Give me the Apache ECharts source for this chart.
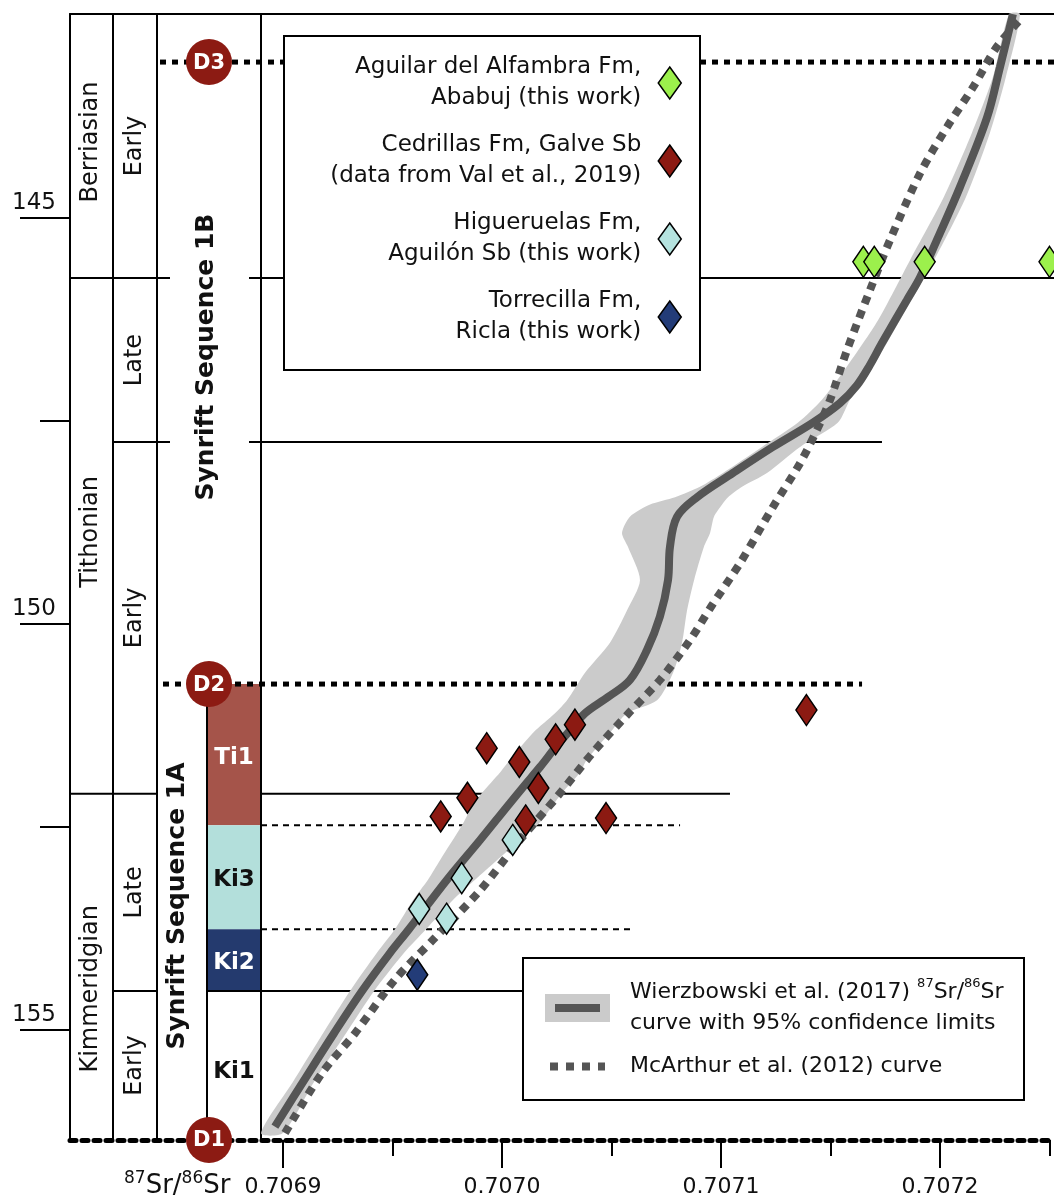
<!DOCTYPE html>
<html><head><meta charset="utf-8">
<script src="https://cdn.jsdelivr.net/npm/echarts@6/dist/echarts.min.js"></script>
<style>html,body{margin:0;padding:0;background:#fff}#c{width:1054px;height:1196px}</style>
</head><body><div id="c"></div>
<script>
// ================= DATA =================
const xTickMajor = [0.7069, 0.7070, 0.7071, 0.7072];
const xTickMinor = [0.70695, 0.70705, 0.70715, 0.70725];
const yTickMajor = [145, 150, 155];
const yTickMinor = [147.5, 152.5];

// samples: [87Sr/86Sr, age Ma]
const aguilar = [[0.707165,145.54],[0.707170,145.54],[0.707193,145.54],[0.707250,145.54]];
const cedrillas = [[0.707139,151.06],[0.7070333,151.24],[0.7070245,151.42],[0.706993,151.53],[0.7070079,151.70],
  [0.7070166,152.02],[0.7069842,152.14],[0.706972,152.37],[0.7070108,152.42],[0.7070475,152.39]];
const higueruelas = [[0.7070049,152.66],[0.7069816,153.13],[0.7069622,153.51],[0.7069747,153.63]];
const torrecilla = [[0.7069613,154.32]];

// Wierzbowski et al. (2017) curve [value, age]
const wierzbowski = [[0.7068963,156.19],[0.7069096,155.62],[0.7069233,155.04],[0.7069361,154.52],[0.7069489,154.05],
  [0.7069575,153.76],[0.7069749,153.15],[0.7069900,152.66],[0.7070023,152.25],[0.7070096,152.01],[0.7070174,151.76],
  [0.7070247,151.51],[0.7070311,151.31],[0.7070379,151.10],[0.7070484,150.90],[0.7070584,150.69],[0.7070662,150.32],
  [0.7070721,149.91],[0.7070758,149.46],[0.7070767,149.05],[0.7070799,148.68],[0.7070890,148.44],[0.7071055,148.14],
  [0.7071237,147.82],[0.7071420,147.52],[0.7071543,147.28],[0.7071621,147.06],[0.7071680,146.81],[0.7071735,146.54],
  [0.7071849,146.01],[0.7071909,145.73],[0.7071986,145.27],[0.7072091,144.62],[0.7072215,143.76],[0.7072274,143.14],
  [0.7072333,142.49]];

// 95% confidence band
const bandAge  = [156.27,155.62,155.04,154.52,154.05,153.76,153.40,153.15,152.91,152.48,152.25,152.08,151.83,151.67,151.34,
  151.10,150.94,150.60,150.23,149.83,149.46,149.05,148.88,148.68,148.53,148.44,148.31,148.14,147.82,147.52,147.24,146.83,
  146.26,145.52,144.74,143.95,143.26,142.49];
const bandLow  = [0.7068900,0.7069050,0.7069183,0.7069306,0.7069429,0.7069511,0.7069594,0.7069662,0.7069717,0.7069817,
  0.7069863,0.7069909,0.7069991,0.7070037,0.7070142,0.7070242,0.7070297,0.7070379,0.7070493,0.7070571,0.7070630,0.7070575,
  0.7070548,0.7070584,0.7070676,0.7070790,0.7070904,0.7071009,0.7071187,0.7071352,0.7071461,0.7071575,0.7071717,0.7071863,
  0.7072018,0.7072146,0.7072242,0.7072315];
const bandHigh = [0.7069000,0.7069146,0.7069288,0.7069416,0.7069553,0.7069653,0.7069776,0.7069877,0.7069977,0.7070160,
  0.7070228,0.7070274,0.7070356,0.7070388,0.7070493,0.7070571,0.7070708,0.7070781,0.7070822,0.7070845,0.7070877,0.7070922,
  0.7070950,0.7070968,0.7071005,0.7071032,0.7071096,0.7071210,0.7071361,0.7071534,0.7071589,0.7071694,0.7071817,0.7071973,
  0.7072119,0.7072228,0.7072301,0.7072365];

// McArthur et al. (2012) curve
const mcarthur = [[0.7069009,156.27],[0.7069178,155.53],[0.7069329,155.04],[0.7069511,154.38],[0.7069685,153.89],
  [0.7069900,153.28],[0.7070082,152.66],[0.7070251,152.13],[0.7070416,151.58],[0.7070571,151.12],[0.7070721,150.69],
  [0.7070858,150.20],[0.7070959,149.77],[0.7071087,149.25],[0.7071237,148.56],[0.7071361,148.02],[0.7071438,147.61],
  [0.7071498,147.24],[0.7071575,146.63],[0.7071680,145.89],[0.7071772,145.27],[0.7071909,144.45],[0.7072032,143.88],
  [0.7072151,143.39],[0.7072260,142.89],[0.7072379,142.52]];

// stratigraphy [name, top age, base age]
const stages = [['Berriasian',142.488,145.74],['Tithonian',145.74,152.09],['Kimmeridgian',152.09,156.355]];
const substages = [['Early',142.488,145.74],['Late',145.74,147.76],['Early',147.76,152.09],['Late',152.09,154.52],['Early',154.52,156.355]];
const sequences = [['Synrift Sequence 1B',142.488,150.74],['Synrift Sequence 1A',150.74,156.355]];
const units = [['Ti1',150.74,152.48],['Ki3',152.48,153.76],['Ki2',153.76,154.52],['Ki1',154.52,156.355]];
const discontinuities = [['D3',143.08],['D2',150.74],['D1',156.355]];
const boundaryAges = {berTith:145.74, tithLE:147.76, tithKim:152.09, ki3:152.48, ki2:153.76, kimLE:154.52};

// ================= LAYOUT / STYLE =================
const FONT = '"DejaVu Sans", Verdana, sans-serif';
const AX = {min: 0.70680274, max: 0.70725205};
const AGE = {min: 142.488, max: 156.355};
const COLS = [0, 43, 87, 137, 191];           // column edges, px from grid left
const UNIT_FILL = ['#a5544a', '#b3dfdb', '#243a6e', null];
const UNIT_TEXT = ['#ffffff', '#111111', '#ffffff', '#111111'];
const DCOL = '#8c1b13';
const legendText = {
  aguilar: 'Aguilar del Alfambra Fm,\nAbabuj (this work)',
  cedrillas: 'Cedrillas Fm, Galve Sb\n(data from Val et al., 2019)',
  higueruelas: 'Higueruelas Fm,\nAguilón Sb (this work)',
  torrecilla: 'Torrecilla Fm,\nRicla (this work)',
  wz: '{a|Wierzbowski et al. (2017) }{s|87}{a|Sr/}{s|86}{a|Sr}\n{a|curve with 95% confidence limits}',
  mc: '{a|McArthur et al. (2012) curve}'
};

function txt(x, y, text, o) {
  o = o || {};
  return {type:'text', x:x, y:y, rotation:o.rot || 0,
    style:{text:text, fill:o.fill || '#111', fontSize:o.size || 24, fontFamily:FONT, fontWeight:o.weight || 'normal',
      align:'center', verticalAlign:'middle', textAlign:'center', textVerticalAlign:'middle'}};
}

function stratRender(params, api) {
  if (params.dataIndex !== 0) return null;
  const cs = params.coordSys;
  const c = COLS.map(o => cs.x + o);
  const Y = a => api.coord([AX.min, a])[1];
  const X = v => api.coord([v, AGE.min])[0];
  const yTop = Y(AGE.min), yBot = Y(AGE.max);
  const els = [];
  const ln = (x1, y1, x2, y2, st) => els.push({type:'line', shape:{x1:x1, y1:y1, x2:x2, y2:y2},
    style:Object.assign({stroke:'#000', lineWidth:2}, st || {})});
  const dashed = {lineDash:[6,5], lineWidth:2};
  const dotted = {lineDash:[6,6], lineWidth:5};

  units.forEach((u, i) => {
    const y1 = Y(u[1]), y2 = Y(u[2]);
    if (UNIT_FILL[i]) els.push({type:'rect', shape:{x:c[3], y:y1, width:c[4]-c[3], height:y2-y1}, style:{fill:UNIT_FILL[i]}});
    els.push(txt((c[3]+c[4])/2, (y1+y2)/2 + (i === 3 ? 7 : 3), u[0], {fill:UNIT_TEXT[i], size:23, weight:'bold'}));
  });
  ln(c[1], yTop, c[1], yBot);
  ln(c[2], yTop, c[2], yBot);
  ln(c[3], Y(discontinuities[1][1]), c[3], yBot);
  ln(c[4], yTop, c[4], yBot);
  let y = Y(boundaryAges.berTith);
  ln(c[0], y, c[0]+100, y); ln(c[0]+179, y, X(AX.max), y);
  y = Y(boundaryAges.tithLE);
  ln(c[1], y, c[0]+100, y); ln(c[0]+179, y, X(0.7071735), y);
  y = Y(boundaryAges.tithKim);
  ln(c[0], y, c[2], y); ln(c[4], y, X(0.7071041), y);
  y = Y(boundaryAges.ki3);
  ln(c[4], y, X(0.7070813), y, dashed);
  y = Y(boundaryAges.ki2);
  ln(c[4], y, X(0.7070607), y, dashed);
  y = Y(boundaryAges.kimLE);
  ln(c[1], y, c[2], y); ln(c[3], y, X(0.7070096), y);
  y = Y(discontinuities[0][1]);
  ln(c[0]+90, y, X(AX.max), y, dotted);
  y = Y(discontinuities[1][1]);
  ln(c[0]+93, y, X(0.7071644), y, dotted);
  stages.forEach((s, i) => els.push(txt((c[0]+c[1])/2 - 1, (Y(s[1])+Y(s[2]))/2 + (i === 2 ? 22 : -4), s[0], {rot:Math.PI/2, size:24})));
  substages.forEach(s => els.push(txt((c[1]+c[2])/2, (Y(s[1])+Y(s[2]))/2, s[0], {rot:Math.PI/2, size:24})));
  els.push(txt((c[2]+c[4])/2 - 3, (Y(sequences[0][1])+Y(sequences[0][2]))/2 + 8, sequences[0][0], {rot:Math.PI/2, size:25, weight:'bold'}));
  els.push(txt((c[2]+c[3])/2 - 5, (Y(sequences[1][1])+Y(sequences[1][2]))/2 - 6, sequences[1][0], {rot:Math.PI/2, size:25, weight:'bold'}));
  discontinuities.forEach(d => {
    const yy = Y(d[1]);
    els.push({type:'circle', shape:{cx:c[3]+2, cy:yy, r:23}, style:{fill:DCOL}});
    els.push(txt(c[3]+2, yy + 1, d[0], {fill:'#fff', size:21, weight:'bold'}));
  });
  return {type:'group', children:els};
}

function bandRender(params, api) {
  if (params.dataIndex !== 0) return null;
  const pts = [];
  for (let i = 0; i < bandAge.length; i++) pts.push(api.coord([bandLow[i], bandAge[i]]));
  for (let i = bandAge.length - 1; i >= 0; i--) pts.push(api.coord([bandHigh[i], bandAge[i]]));
  return {type:'polygon', shape:{points:pts, smooth:0.25}, style:{fill:'#cbcbcb'}};
}

const tickStyle = {color:'#000', width:2};
const dia = (color) => ({color:color, borderColor:'#000', borderWidth:1.5, opacity:1});

const option = {
  animation:false,
  backgroundColor:'#fff',
  textStyle:{fontFamily:FONT},
  grid:{left:70, right:0, top:14, bottom:56, outerBoundsMode:'none', containLabel:false},
  xAxis:[
    {type:'value', min:AX.min, max:AX.max, position:'bottom',
      axisLine:{show:true, onZero:false, lineStyle:{color:'#000', width:5, type:[6,6]}},
      axisTick:{show:true, customValues:xTickMajor, length:28, lineStyle:tickStyle},
      axisLabel:{show:true, customValues:xTickMajor, formatter:v => v.toFixed(4), margin:36, fontSize:22, color:'#111', fontFamily:FONT},
      splitLine:{show:false}},
    {type:'value', min:AX.min, max:AX.max, position:'bottom',
      axisLine:{show:false}, axisTick:{show:true, customValues:xTickMinor, length:16, lineStyle:tickStyle},
      axisLabel:{show:false}, splitLine:{show:false}},
    {type:'value', min:AX.min, max:AX.max, position:'top',
      axisLine:{show:true, onZero:false, lineStyle:{color:'#000', width:2}}, axisTick:{show:false},
      axisLabel:{show:false}, splitLine:{show:false}}
  ],
  yAxis:[
    {type:'value', inverse:true, min:AGE.min, max:AGE.max, position:'left',
      axisLine:{show:true, onZero:false, lineStyle:{color:'#000', width:2}},
      axisTick:{show:true, customValues:yTickMajor, length:50, lineStyle:tickStyle},
      axisLabel:{show:true, customValues:yTickMajor, margin:14, fontSize:23, color:'#111', fontFamily:FONT,
        verticalAlign:'bottom', align:'right', padding:[0,0,3,0]},
      splitLine:{show:false}},
    {type:'value', inverse:true, min:AGE.min, max:AGE.max, position:'left',
      axisLine:{show:false}, axisTick:{show:true, customValues:yTickMinor, length:30, lineStyle:tickStyle},
      axisLabel:{show:false}, splitLine:{show:false}}
  ],
  legend:[
    {orient:'vertical', right:372, top:52, align:'right', itemWidth:23, itemHeight:32, itemGap:16,
      selectedMode:false, z:20, padding:0,
      data:['aguilar','cedrillas','higueruelas','torrecilla'],
      formatter:n => legendText[n],
      itemStyle:{borderColor:'#000', borderWidth:1.5},
      textStyle:{fontFamily:FONT, fontSize:23, lineHeight:31, color:'#111', padding:[0,12,0,0]}},
    {orient:'vertical', left:545, top:977, align:'left', itemWidth:55, itemHeight:18, itemGap:21,
      selectedMode:false, z:20, padding:0,
      lineStyle:{color:'#555555', width:8, type:[8,8], cap:'butt'},
      data:[{name:'wz', icon:'rect', itemStyle:{color:'#555555', borderColor:'#cbcbcb', borderWidth:10}},
            {name:'mc', itemStyle:{opacity:0}}],
      formatter:n => legendText[n],
      textStyle:{fontFamily:FONT, fontSize:22, color:'#111', padding:[0,0,0,20],
        rich:{a:{fontFamily:FONT, fontSize:22, lineHeight:31, color:'#111'},
              s:{fontFamily:FONT, fontSize:13, lineHeight:14, verticalAlign:'top', color:'#111'}}}}
  ],
  graphic:[
    {type:'rect', z:10, shape:{x:284, y:36, width:416, height:334}, style:{fill:'#fff', stroke:'#000', lineWidth:2}},
    {type:'rect', z:10, shape:{x:523, y:958, width:501, height:142}, style:{fill:'#fff', stroke:'#000', lineWidth:2}},
    {type:'text', z:10, x:124, y:1170, style:{text:'{s|87}{n|Sr/}{s|86}{n|Sr}', align:'left', verticalAlign:'top',
      rich:{n:{fontFamily:FONT, fontSize:26, lineHeight:32, fill:'#111'}, s:{fontFamily:FONT, fontSize:17, lineHeight:18, verticalAlign:'top', fill:'#111'}}}}
  ],
  series:[
    {type:'custom', name:'strat', data:[[AX.min, AGE.min]], renderItem:stratRender, z:1, silent:true, clip:false},
    {type:'custom', name:'band', data:bandAge.map((a, i) => [bandLow[i], a, bandHigh[i]]), renderItem:bandRender, z:2, silent:true},
    {type:'line', name:'mc', data:mcarthur, smooth:0.3, symbol:'none', z:3,
      lineStyle:{color:'#555555', width:8, type:[8,7], cap:'butt'}, itemStyle:{color:'#555555'}},
    {type:'line', name:'wz', data:wierzbowski, smooth:0.35, symbol:'none', z:4,
      lineStyle:{color:'#555555', width:8}, itemStyle:{color:'#555555'}},
    {type:'scatter', name:'aguilar', data:aguilar, symbol:'diamond', symbolSize:[21,31], itemStyle:dia('#9cf04c'), z:6},
    {type:'scatter', name:'cedrillas', data:cedrillas, symbol:'diamond', symbolSize:[21,31], itemStyle:dia('#8c1a12'), z:6},
    {type:'scatter', name:'higueruelas', data:higueruelas, symbol:'diamond', symbolSize:[21,31], itemStyle:dia('#b5e3df'), z:6},
    {type:'scatter', name:'torrecilla', data:torrecilla, symbol:'diamond', symbolSize:[21,31], itemStyle:dia('#233c78'), z:6}
  ]
};
const chart = echarts.init(document.getElementById('c'), null, {renderer:'canvas'});
chart.setOption(option);
</script>
</body></html>
